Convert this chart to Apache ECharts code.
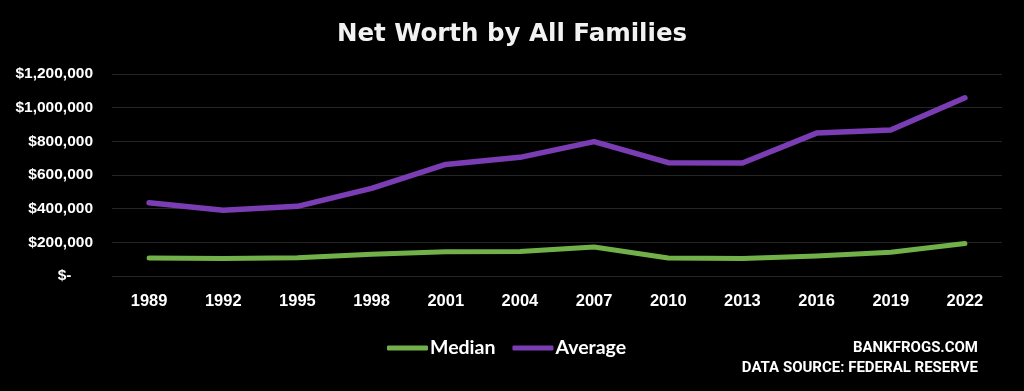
<!DOCTYPE html>
<html><head><meta charset="utf-8">
<script src="https://cdn.jsdelivr.net/npm/echarts@6/dist/echarts.min.js"></script>
<style>html,body{margin:0;padding:0;background:#000;}#c{width:1024px;height:391px;}</style>
</head><body><div id="c"></div>
<script>
const years = ['1989','1992','1995','1998','2001','2004','2007','2010','2013','2016','2019','2022'];
const median = [107000, 104000, 109000, 129000, 144000, 145000, 172000, 107000, 104000, 119000, 141000, 193000];
const average = [435000, 390000, 414000, 521000, 663000, 705000, 798000, 673000, 671000, 849000, 867000, 1059000];
const yTicks = [0, 200000, 400000, 600000, 800000, 1000000, 1200000];
const sourceLines = ['BANKFROGS.COM', 'DATA SOURCE: FEDERAL RESERVE'];

const chart = echarts.init(document.getElementById('c'), null, {renderer: 'canvas'});
chart.setOption({
  backgroundColor: '#000000',
  animation: false,
  title: {
    text: 'Net Worth by All Families',
    left: 'center', top: 17,
    textStyle: {color: '#f2f2f2', fontFamily: 'DejaVu Sans', fontWeight: 'bold', fontSize: 24.5}
  },
  grid: {left: 112, right: 22, top: 74, bottom: 115},
  legend: {
    data: ['Median', 'Average'],
    left: 387, top: 338, padding: 0,
    itemWidth: 41, itemHeight: 5, itemGap: 17,
    icon: 'roundRect',
    textStyle: {color: '#ffffff', fontFamily: 'Lato', fontSize: 19.5, fontWeight: 'bold', padding: [0,0,0,-3]}
  },
  graphic: sourceLines.map((t, i) => ({
    type: 'text', right: 46, top: 341 + i * 20,
    style: {
      text: t, fill: '#ffffff',
      font: 'bold 15px Roboto, sans-serif'
    }
  })),
  xAxis: {
    type: 'category', data: years, boundaryGap: true,
    axisLine: {show: false}, axisTick: {show: false},
    axisLabel: {color: '#ffffff', fontFamily: 'Liberation Sans', fontWeight: 'bold', fontSize: 16.5, margin: 17}
  },
  yAxis: {
    type: 'value', min: yTicks[0], max: yTicks[yTicks.length-1], interval: 200000,
    axisLine: {show: false}, axisTick: {show: false},
    splitLine: {lineStyle: {color: '#262626', width: 1}},
    axisLabel: {
      color: '#ffffff', fontFamily: 'Liberation Sans', fontWeight: 'bold', fontSize: 15.5, margin: 19,
      formatter: v => v === 0 ? '$-     ' : '$' + v.toLocaleString('en-US')
    }
  },
  series: [
    {name: 'Median', type: 'line', data: median, symbol: 'none', color: '#72B04A',
     lineStyle: {width: 5, color: '#72B04A', cap: 'round', join: 'round'}},
    {name: 'Average', type: 'line', data: average, symbol: 'none', color: '#7B3DB3',
     lineStyle: {width: 5.5, color: '#7B3DB3', cap: 'round', join: 'round'}}
  ]
});
</script></body></html>
